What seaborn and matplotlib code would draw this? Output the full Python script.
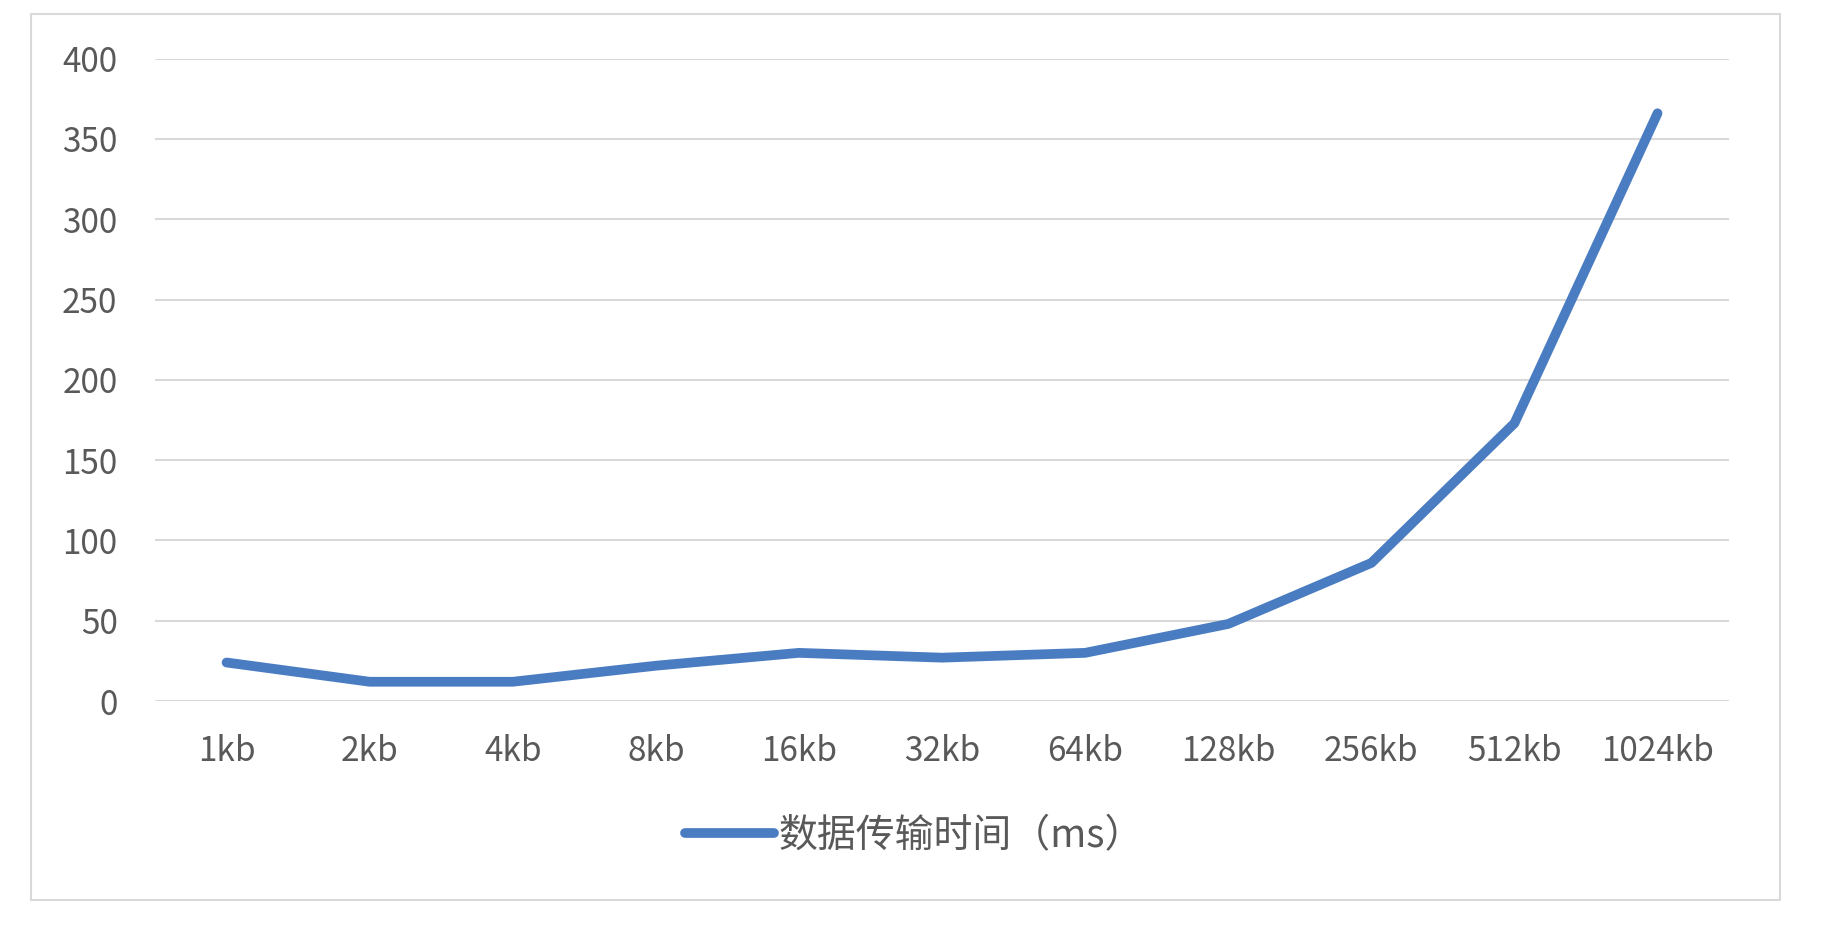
import matplotlib
matplotlib.use("Agg")
import matplotlib.pyplot as plt
import matplotlib.patches as patches
import seaborn as sns
import pandas as pd

# data
sizes = ["1kb", "2kb", "4kb", "8kb", "16kb", "32kb", "64kb", "128kb", "256kb", "512kb", "1024kb"]
times_ms = [24, 12, 12, 22, 30, 27, 30, 48, 86, 173, 366]
series_name = "数据传输时间（ms）"
y_ticks = [0, 50, 100, 150, 200, 250, 300, 350, 400]

sns.set_style("white")
plt.rcParams['font.family'] = ['Noto Sans CJK SC', 'DejaVu Sans']

df = pd.DataFrame({"size": sizes, "time": times_ms})

fig = plt.figure(figsize=(18.43, 9.30), dpi=100)
ax = fig.add_axes([0.0841, 0.2462, 0.8541, 0.6907])

# outer chart border
fig.patches.append(patches.Rectangle((0.0168, 0.0323), 0.949, 0.9527, transform=fig.transFigure,
                                     fill=False, edgecolor="#d9d9d9", linewidth=1.5))

ax.set_axisbelow(True)
ax.yaxis.grid(True, color="#d9d9d9", linewidth=1.5)
ax.xaxis.grid(False)

sns.lineplot(data=df, x="size", y="time", sort=False, color="#4a7cc1", linewidth=7,
             label=series_name, ax=ax, legend=False)
for ln in ax.lines:
    ln.set_solid_capstyle("round")
    ln.set_solid_joinstyle("round")

ax.set_xlim(-0.5, len(sizes) - 0.5)
ax.set_ylim(0, 400)
ax.set_yticks(y_ticks)
ax.set_xlabel("")
ax.set_ylabel("")
for s in ax.spines.values():
    s.set_visible(False)
ax.tick_params(axis="x", length=0, pad=24, labelsize=24, labelcolor="#595959")
ax.tick_params(axis="y", length=0, pad=27, labelsize=24, labelcolor="#595959")

handles, labels = ax.get_legend_handles_labels()
fig.legend(handles, labels, loc="center", bbox_to_anchor=(0.496, 0.1011), frameon=False,
           fontsize=28, labelcolor="#595959", handlelength=2.3, handletextpad=0.1)

fig.savefig("out.png", dpi=100, facecolor="white")
